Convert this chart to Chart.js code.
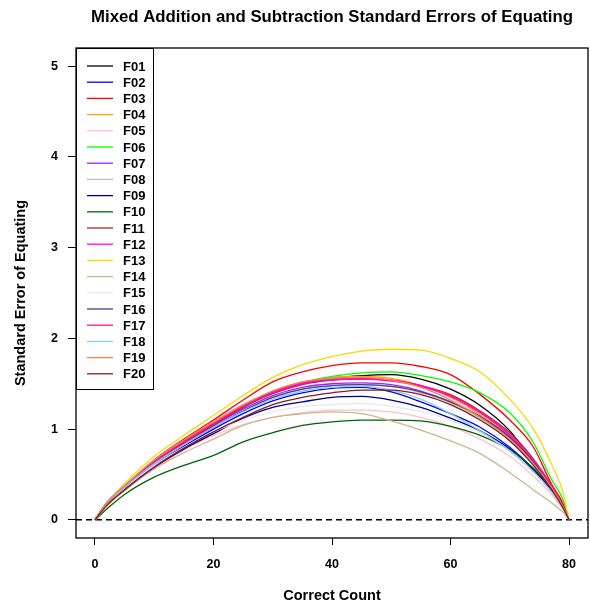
<!DOCTYPE html>
<html>
<head>
<meta charset="utf-8">
<script src="https://cdn.jsdelivr.net/npm/chart.js@4.4.1/dist/chart.umd.min.js"></script>
<style>
  html, body { margin: 0; padding: 0; background: #fff; }
  #wrap { width: 590px; height: 610px; }
</style>
</head>
<body>
<div id="wrap"><canvas id="seChart" width="590" height="610"></canvas></div>
<script>
// correct-count positions shared by every form
const scores = [0, 2, 5, 10, 15, 20, 25, 30, 35, 40, 45, 50, 55, 60, 65, 70, 74, 77, 79, 80];

const F01 = [0, 0.18, 0.36, 0.64, 0.84, 1.04, 1.24, 1.41, 1.50, 1.56, 1.59, 1.60, 1.55, 1.44, 1.26, 0.98, 0.63, 0.34, 0.13, 0];
const F02 = [0, 0.17, 0.35, 0.60, 0.81, 1.00, 1.17, 1.31, 1.40, 1.45, 1.46, 1.41, 1.30, 1.17, 1.02, 0.80, 0.56, 0.33, 0.13, 0];
const F03 = [0, 0.19, 0.37, 0.66, 0.89, 1.10, 1.32, 1.52, 1.63, 1.70, 1.73, 1.73, 1.69, 1.60, 1.38, 1.10, 0.80, 0.40, 0.18, 0];
const F04 = [0, 0.18, 0.37, 0.65, 0.87, 1.07, 1.26, 1.42, 1.52, 1.57, 1.58, 1.56, 1.48, 1.35, 1.16, 0.92, 0.64, 0.37, 0.15, 0];
const F05 = [0, 0.16, 0.33, 0.57, 0.77, 0.93, 1.05, 1.13, 1.18, 1.21, 1.21, 1.19, 1.13, 1.03, 0.89, 0.70, 0.48, 0.28, 0.11, 0];
const F06 = [0, 0.18, 0.36, 0.63, 0.85, 1.05, 1.24, 1.40, 1.51, 1.58, 1.62, 1.63, 1.59, 1.52, 1.40, 1.18, 0.85, 0.45, 0.22, 0];
const F07 = [0, 0.18, 0.36, 0.63, 0.84, 1.04, 1.22, 1.37, 1.46, 1.50, 1.51, 1.49, 1.42, 1.30, 1.13, 0.90, 0.63, 0.36, 0.14, 0];
const F08 = [0, 0.18, 0.36, 0.62, 0.83, 1.02, 1.20, 1.35, 1.44, 1.48, 1.49, 1.47, 1.40, 1.29, 1.12, 0.88, 0.62, 0.36, 0.14, 0];
const F09 = [0, 0.17, 0.34, 0.58, 0.78, 0.95, 1.12, 1.24, 1.30, 1.35, 1.36, 1.32, 1.24, 1.12, 0.98, 0.78, 0.55, 0.32, 0.13, 0];
const F10 = [0, 0.12, 0.28, 0.47, 0.60, 0.71, 0.86, 0.96, 1.04, 1.08, 1.10, 1.10, 1.09, 1.03, 0.93, 0.77, 0.57, 0.35, 0.14, 0];
const F11 = [0, 0.18, 0.36, 0.63, 0.85, 1.05, 1.24, 1.39, 1.49, 1.54, 1.55, 1.54, 1.48, 1.38, 1.20, 0.96, 0.67, 0.38, 0.15, 0];
const F12 = [0, 0.18, 0.37, 0.65, 0.86, 1.06, 1.25, 1.40, 1.50, 1.54, 1.55, 1.53, 1.47, 1.36, 1.18, 0.93, 0.65, 0.37, 0.15, 0];
const F13 = [0, 0.18, 0.40, 0.70, 0.93, 1.15, 1.37, 1.57, 1.71, 1.80, 1.86, 1.88, 1.87, 1.78, 1.63, 1.33, 1.00, 0.62, 0.30, 0];
const F14 = [0, 0.15, 0.32, 0.56, 0.74, 0.89, 1.04, 1.13, 1.17, 1.19, 1.17, 1.09, 0.99, 0.87, 0.73, 0.52, 0.33, 0.19, 0.08, 0];
const F15 = [0, 0.17, 0.35, 0.60, 0.80, 0.97, 1.10, 1.19, 1.25, 1.27, 1.28, 1.25, 1.19, 1.10, 0.96, 0.76, 0.53, 0.31, 0.12, 0];
const F16 = [0, 0.18, 0.36, 0.62, 0.83, 1.02, 1.20, 1.35, 1.44, 1.48, 1.49, 1.47, 1.41, 1.30, 1.14, 0.91, 0.64, 0.37, 0.15, 0];
const F17 = [0, 0.18, 0.37, 0.64, 0.86, 1.06, 1.25, 1.41, 1.51, 1.55, 1.56, 1.54, 1.48, 1.37, 1.19, 0.94, 0.66, 0.38, 0.15, 0];
const F18 = [0, 0.18, 0.36, 0.62, 0.83, 1.02, 1.19, 1.33, 1.42, 1.46, 1.47, 1.43, 1.33, 1.17, 0.98, 0.76, 0.53, 0.31, 0.12, 0];
const F19 = [0, 0.19, 0.38, 0.66, 0.88, 1.08, 1.27, 1.42, 1.52, 1.56, 1.57, 1.54, 1.46, 1.32, 1.13, 0.89, 0.62, 0.36, 0.14, 0];
const F20 = [0, 0.16, 0.33, 0.58, 0.79, 0.97, 1.13, 1.27, 1.35, 1.40, 1.43, 1.43, 1.38, 1.27, 1.10, 0.87, 0.60, 0.34, 0.13, 0];

const formNames = ["F01", "F02", "F03", "F04", "F05", "F06", "F07", "F08", "F09", "F10",
                   "F11", "F12", "F13", "F14", "F15", "F16", "F17", "F18", "F19", "F20"];
const formValues = [F01, F02, F03, F04, F05, F06, F07, F08, F09, F10,
                    F11, F12, F13, F14, F15, F16, F17, F18, F19, F20];
const formColors = ["#000000", "#0000FF", "#FF0000", "#FFA500", "#FFC0CB", "#00FF00", "#A020F0", "#BEBEBE",
                    "#00008B", "#006400", "#A52A2A", "#FF00FF", "#FFD700", "#D2B48C", "#E6E6FA", "#483D8B",
                    "#FF1493", "#87CEEB", "#FF7F50", "#8B1A1A"];

const xTicks = [0, 20, 40, 60, 80];
const yTicks = [0, 1, 2, 3, 4, 5];

const FONT = "'Liberation Sans', Arial, sans-serif";

const datasets = formNames.map((name, i) => ({
  label: name,
  data: scores.map((s, k) => ({ x: s, y: formValues[i][k] })),
  borderColor: formColors[i],
  backgroundColor: formColors[i],
  borderWidth: 1.3,
  pointRadius: 0,
  cubicInterpolationMode: "monotone",
  order: formNames.length - i
}));

// box, zero line, legend and titles, base-graphics style
const frame = {
  id: "frame",
  beforeDatasetsDraw(chart) {
    const { ctx, chartArea: a, scales: { y } } = chart;
    const y0 = y.getPixelForValue(0);
    ctx.save();
    ctx.strokeStyle = "#000";
    ctx.lineWidth = 1.5;
    ctx.setLineDash([6, 4]);
    ctx.beginPath();
    ctx.moveTo(a.left, y0);
    ctx.lineTo(a.right, y0);
    ctx.stroke();
    ctx.restore();
  },
  afterDatasetsDraw(chart) {
    const { ctx, chartArea: a } = chart;
    ctx.save();

    // legend in the top-left corner
    const lx = a.left, ly = a.top, lw = 77, lh = 341, rowH = 16.2;
    ctx.fillStyle = "#fff";
    ctx.fillRect(lx, ly, lw, lh);
    ctx.strokeStyle = "#000";
    ctx.lineWidth = 1;
    ctx.strokeRect(lx + 0.5, ly + 0.5, lw, lh);
    ctx.font = "bold 13px " + FONT;
    ctx.textBaseline = "middle";
    ctx.textAlign = "left";
    formNames.forEach((name, i) => {
      const ry = ly + 18 + i * rowH;
      ctx.strokeStyle = formColors[i];
      ctx.lineWidth = 1.3;
      ctx.beginPath();
      ctx.moveTo(lx + 11, ry);
      ctx.lineTo(lx + 37, ry);
      ctx.stroke();
      ctx.fillStyle = "#000";
      ctx.fillText(name, lx + 47, ry + 1);
    });

    // plot box
    ctx.strokeStyle = "#000";
    ctx.lineWidth = 1.3;
    ctx.strokeRect(a.left, a.top, a.right - a.left, a.bottom - a.top);

    // titles
    ctx.fillStyle = "#000";
    ctx.textAlign = "center";
    ctx.font = "bold 16.8px " + FONT;
    const cx = (a.left + a.right) / 2;
    ctx.fillText("Mixed Addition and Subtraction Standard Errors of Equating", cx, 17);
    ctx.font = "bold 14.5px " + FONT;
    ctx.fillText("Correct Count", cx, 596);
    ctx.translate(21, (a.top + a.bottom) / 2);
    ctx.rotate(-Math.PI / 2);
    ctx.fillText("Standard Error of Equating", 0, 0);
    ctx.restore();
  }
};

new Chart(document.getElementById("seChart"), {
  type: "line",
  data: { datasets },
  options: {
    responsive: false,
    animation: false,
    layout: { padding: { top: 48, right: 2, bottom: 0, left: 0 } },
    plugins: { legend: { display: false }, title: { display: false }, tooltip: { enabled: false } },
    scales: {
      x: {
        type: "linear",
        min: -3.2,
        max: 83.2,
        afterFit(s) { s.height = 72; },
        afterBuildTicks(s) { s.ticks = xTicks.map(v => ({ value: v })); },
        grid: { drawOnChartArea: false, color: "#000", tickLength: 7, lineWidth: 1 },
        border: { display: false },
        ticks: { color: "#000", padding: 12, maxRotation: 0, font: { family: FONT, size: 12.5, weight: "bold" } }
      },
      y: {
        type: "linear",
        min: -0.2,
        max: 5.2,
        afterFit(s) { s.width = 76; },
        afterBuildTicks(s) { s.ticks = yTicks.map(v => ({ value: v })); },
        grid: { drawOnChartArea: false, color: "#000", tickLength: 8, lineWidth: 1 },
        border: { display: false },
        ticks: { color: "#000", padding: 10, font: { family: FONT, size: 12.5, weight: "bold" } }
      }
    }
  },
  plugins: [frame]
});
</script>
</body>
</html>
